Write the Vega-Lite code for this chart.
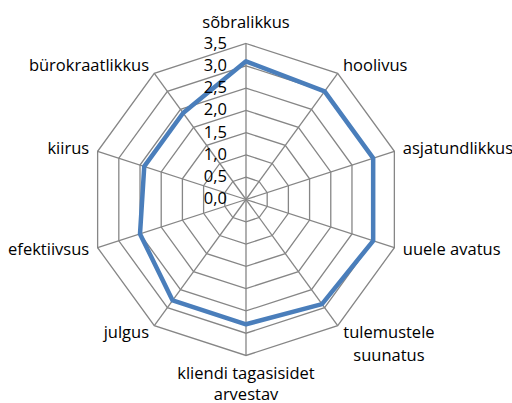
{
  "$schema": "https://vega.github.io/schema/vega-lite/v6.json",
  "width": 512,
  "height": 403,
  "autosize": {"type": "none"},
  "padding": 0,
  "background": "white",
  "config": {
    "view": {"stroke": null},
    "text": {"font": "Open Sans", "fontSize": 16.5, "fill": "#000000"}
  },
  "datasets": {
    "scores": [
      {"i": 0, "kategooria": "sõbralikkus", "vaartus": 3.1},
      {"i": 1, "kategooria": "hoolivus", "vaartus": 3.0},
      {"i": 2, "kategooria": "asjatundlikkus", "vaartus": 3.0},
      {"i": 3, "kategooria": "uuele avatus", "vaartus": 3.0},
      {"i": 4, "kategooria": "tulemustele\nsuunatus", "vaartus": 2.9},
      {"i": 5, "kategooria": "kliendi tagasisidet\narvestav", "vaartus": 2.8},
      {"i": 6, "kategooria": "julgus", "vaartus": 2.8},
      {"i": 7, "kategooria": "efektiivsus", "vaartus": 2.5},
      {"i": 8, "kategooria": "kiirus", "vaartus": 2.4},
      {"i": 9, "kategooria": "bürokraatlikkus", "vaartus": 2.4}
    ],
    "rings": [
      {"tase": 0.5, "i": [0, 1, 2, 3, 4, 5, 6, 7, 8, 9]},
      {"tase": 1.0, "i": [0, 1, 2, 3, 4, 5, 6, 7, 8, 9]},
      {"tase": 1.5, "i": [0, 1, 2, 3, 4, 5, 6, 7, 8, 9]},
      {"tase": 2.0, "i": [0, 1, 2, 3, 4, 5, 6, 7, 8, 9]},
      {"tase": 2.5, "i": [0, 1, 2, 3, 4, 5, 6, 7, 8, 9]},
      {"tase": 3.0, "i": [0, 1, 2, 3, 4, 5, 6, 7, 8, 9]},
      {"tase": 3.5, "i": [0, 1, 2, 3, 4, 5, 6, 7, 8, 9]}
    ],
    "ticks": [
      {"t": 0.0}, {"t": 0.5}, {"t": 1.0}, {"t": 1.5},
      {"t": 2.0}, {"t": 2.5}, {"t": 3.0}, {"t": 3.5}
    ]
  },
  "layer": [
    {
      "data": {"name": "rings"},
      "transform": [
        {"flatten": ["i"]},
        {"calculate": "datum.tase * sin(datum.i * PI / 5)", "as": "x"},
        {"calculate": "datum.tase * cos(datum.i * PI / 5)", "as": "y"}
      ],
      "mark": {"type": "line", "interpolate": "linear-closed", "stroke": "#868686", "strokeWidth": 1.3},
      "encoding": {
        "x": {"field": "x", "type": "quantitative", "scale": {"domain": [-5.519, 5.968], "nice": false, "zero": false}, "axis": null},
        "y": {"field": "y", "type": "quantitative", "scale": {"domain": [-4.566, 4.476], "nice": false, "zero": false}, "axis": null},
        "detail": {"field": "tase", "type": "nominal"},
        "order": {"field": "i", "type": "quantitative"}
      }
    },
    {
      "data": {"name": "scores"},
      "transform": [
        {"calculate": "0", "as": "x0"},
        {"calculate": "0", "as": "y0"},
        {"calculate": "3.5 * sin(datum.i * PI / 5)", "as": "x"},
        {"calculate": "3.5 * cos(datum.i * PI / 5)", "as": "y"}
      ],
      "mark": {"type": "rule", "stroke": "#868686", "strokeWidth": 1.3},
      "encoding": {
        "x": {"field": "x0", "type": "quantitative", "scale": {"domain": [-5.519, 5.968], "nice": false, "zero": false}, "axis": null},
        "y": {"field": "y0", "type": "quantitative", "scale": {"domain": [-4.566, 4.476], "nice": false, "zero": false}, "axis": null},
        "x2": {"field": "x"},
        "y2": {"field": "y"}
      }
    },
    {
      "data": {"name": "scores"},
      "transform": [
        {"calculate": "datum.vaartus * sin(datum.i * PI / 5)", "as": "x"},
        {"calculate": "datum.vaartus * cos(datum.i * PI / 5)", "as": "y"}
      ],
      "mark": {"type": "line", "interpolate": "linear-closed", "stroke": "#4A7EBB", "strokeWidth": 4.5, "strokeJoin": "round"},
      "encoding": {
        "x": {"field": "x", "type": "quantitative", "scale": {"domain": [-5.519, 5.968], "nice": false, "zero": false}, "axis": null},
        "y": {"field": "y", "type": "quantitative", "scale": {"domain": [-4.566, 4.476], "nice": false, "zero": false}, "axis": null},
        "order": {"field": "i", "type": "quantitative"}
      }
    },
    {
      "data": {"name": "ticks"},
      "transform": [
        {"calculate": "0", "as": "x0"},
        {"calculate": "replace(format(datum.t, '.1f'), '.', ',')", "as": "silt"}
      ],
      "mark": {"type": "text", "align": "right", "baseline": "middle", "dx": -19},
      "encoding": {
        "x": {"field": "x0", "type": "quantitative", "scale": {"domain": [-5.519, 5.968], "nice": false, "zero": false}, "axis": null},
        "y": {"field": "t", "type": "quantitative", "scale": {"domain": [-4.566, 4.476], "nice": false, "zero": false}, "axis": null},
        "text": {"field": "silt"}
      }
    },
    {
      "data": {"name": "scores"},
      "transform": [
        {"filter": "datum.i >= 1 && datum.i <= 3"},
        {"calculate": "3.7 * sin(datum.i * PI / 5)", "as": "x"},
        {"calculate": "3.7 * cos(datum.i * PI / 5)", "as": "y"}
      ],
      "mark": {"type": "text", "align": "left", "baseline": "middle"},
      "encoding": {
        "x": {"field": "x", "type": "quantitative", "scale": {"domain": [-5.519, 5.968], "nice": false, "zero": false}, "axis": null},
        "y": {"field": "y", "type": "quantitative", "scale": {"domain": [-4.566, 4.476], "nice": false, "zero": false}, "axis": null},
        "text": {"field": "kategooria"}
      }
    },
    {
      "data": {"name": "scores"},
      "transform": [
        {"filter": "datum.i >= 6"},
        {"calculate": "3.7 * sin(datum.i * PI / 5)", "as": "x"},
        {"calculate": "3.7 * cos(datum.i * PI / 5)", "as": "y"}
      ],
      "mark": {"type": "text", "align": "right", "baseline": "middle"},
      "encoding": {
        "x": {"field": "x", "type": "quantitative", "scale": {"domain": [-5.519, 5.968], "nice": false, "zero": false}, "axis": null},
        "y": {"field": "y", "type": "quantitative", "scale": {"domain": [-4.566, 4.476], "nice": false, "zero": false}, "axis": null},
        "text": {"field": "kategooria"}
      }
    },
    {
      "data": {"name": "scores"},
      "transform": [
        {"filter": "datum.i == 4"},
        {"calculate": "3.7 * sin(datum.i * PI / 5)", "as": "x"},
        {"calculate": "3.7 * cos(datum.i * PI / 5)", "as": "y"}
      ],
      "mark": {"type": "text", "align": "center", "baseline": "middle", "dx": 46, "lineBreak": "\n", "lineHeight": 23},
      "encoding": {
        "x": {"field": "x", "type": "quantitative", "scale": {"domain": [-5.519, 5.968], "nice": false, "zero": false}, "axis": null},
        "y": {"field": "y", "type": "quantitative", "scale": {"domain": [-4.566, 4.476], "nice": false, "zero": false}, "axis": null},
        "text": {"field": "kategooria"}
      }
    },
    {
      "data": {"name": "scores"},
      "transform": [
        {"filter": "datum.i == 0"},
        {"calculate": "3.7 * sin(datum.i * PI / 5)", "as": "x"},
        {"calculate": "3.7 * cos(datum.i * PI / 5)", "as": "y"}
      ],
      "mark": {"type": "text", "align": "center", "baseline": "alphabetic", "dy": -7},
      "encoding": {
        "x": {"field": "x", "type": "quantitative", "scale": {"domain": [-5.519, 5.968], "nice": false, "zero": false}, "axis": null},
        "y": {"field": "y", "type": "quantitative", "scale": {"domain": [-4.566, 4.476], "nice": false, "zero": false}, "axis": null},
        "text": {"field": "kategooria"}
      }
    },
    {
      "data": {"name": "scores"},
      "transform": [
        {"filter": "datum.i == 5"},
        {"calculate": "3.7 * sin(datum.i * PI / 5)", "as": "x"},
        {"calculate": "3.7 * cos(datum.i * PI / 5)", "as": "y"}
      ],
      "mark": {"type": "text", "align": "center", "baseline": "top", "dy": 2, "lineBreak": "\n", "lineHeight": 21},
      "encoding": {
        "x": {"field": "x", "type": "quantitative", "scale": {"domain": [-5.519, 5.968], "nice": false, "zero": false}, "axis": null},
        "y": {"field": "y", "type": "quantitative", "scale": {"domain": [-4.566, 4.476], "nice": false, "zero": false}, "axis": null},
        "text": {"field": "kategooria"}
      }
    }
  ]
}
